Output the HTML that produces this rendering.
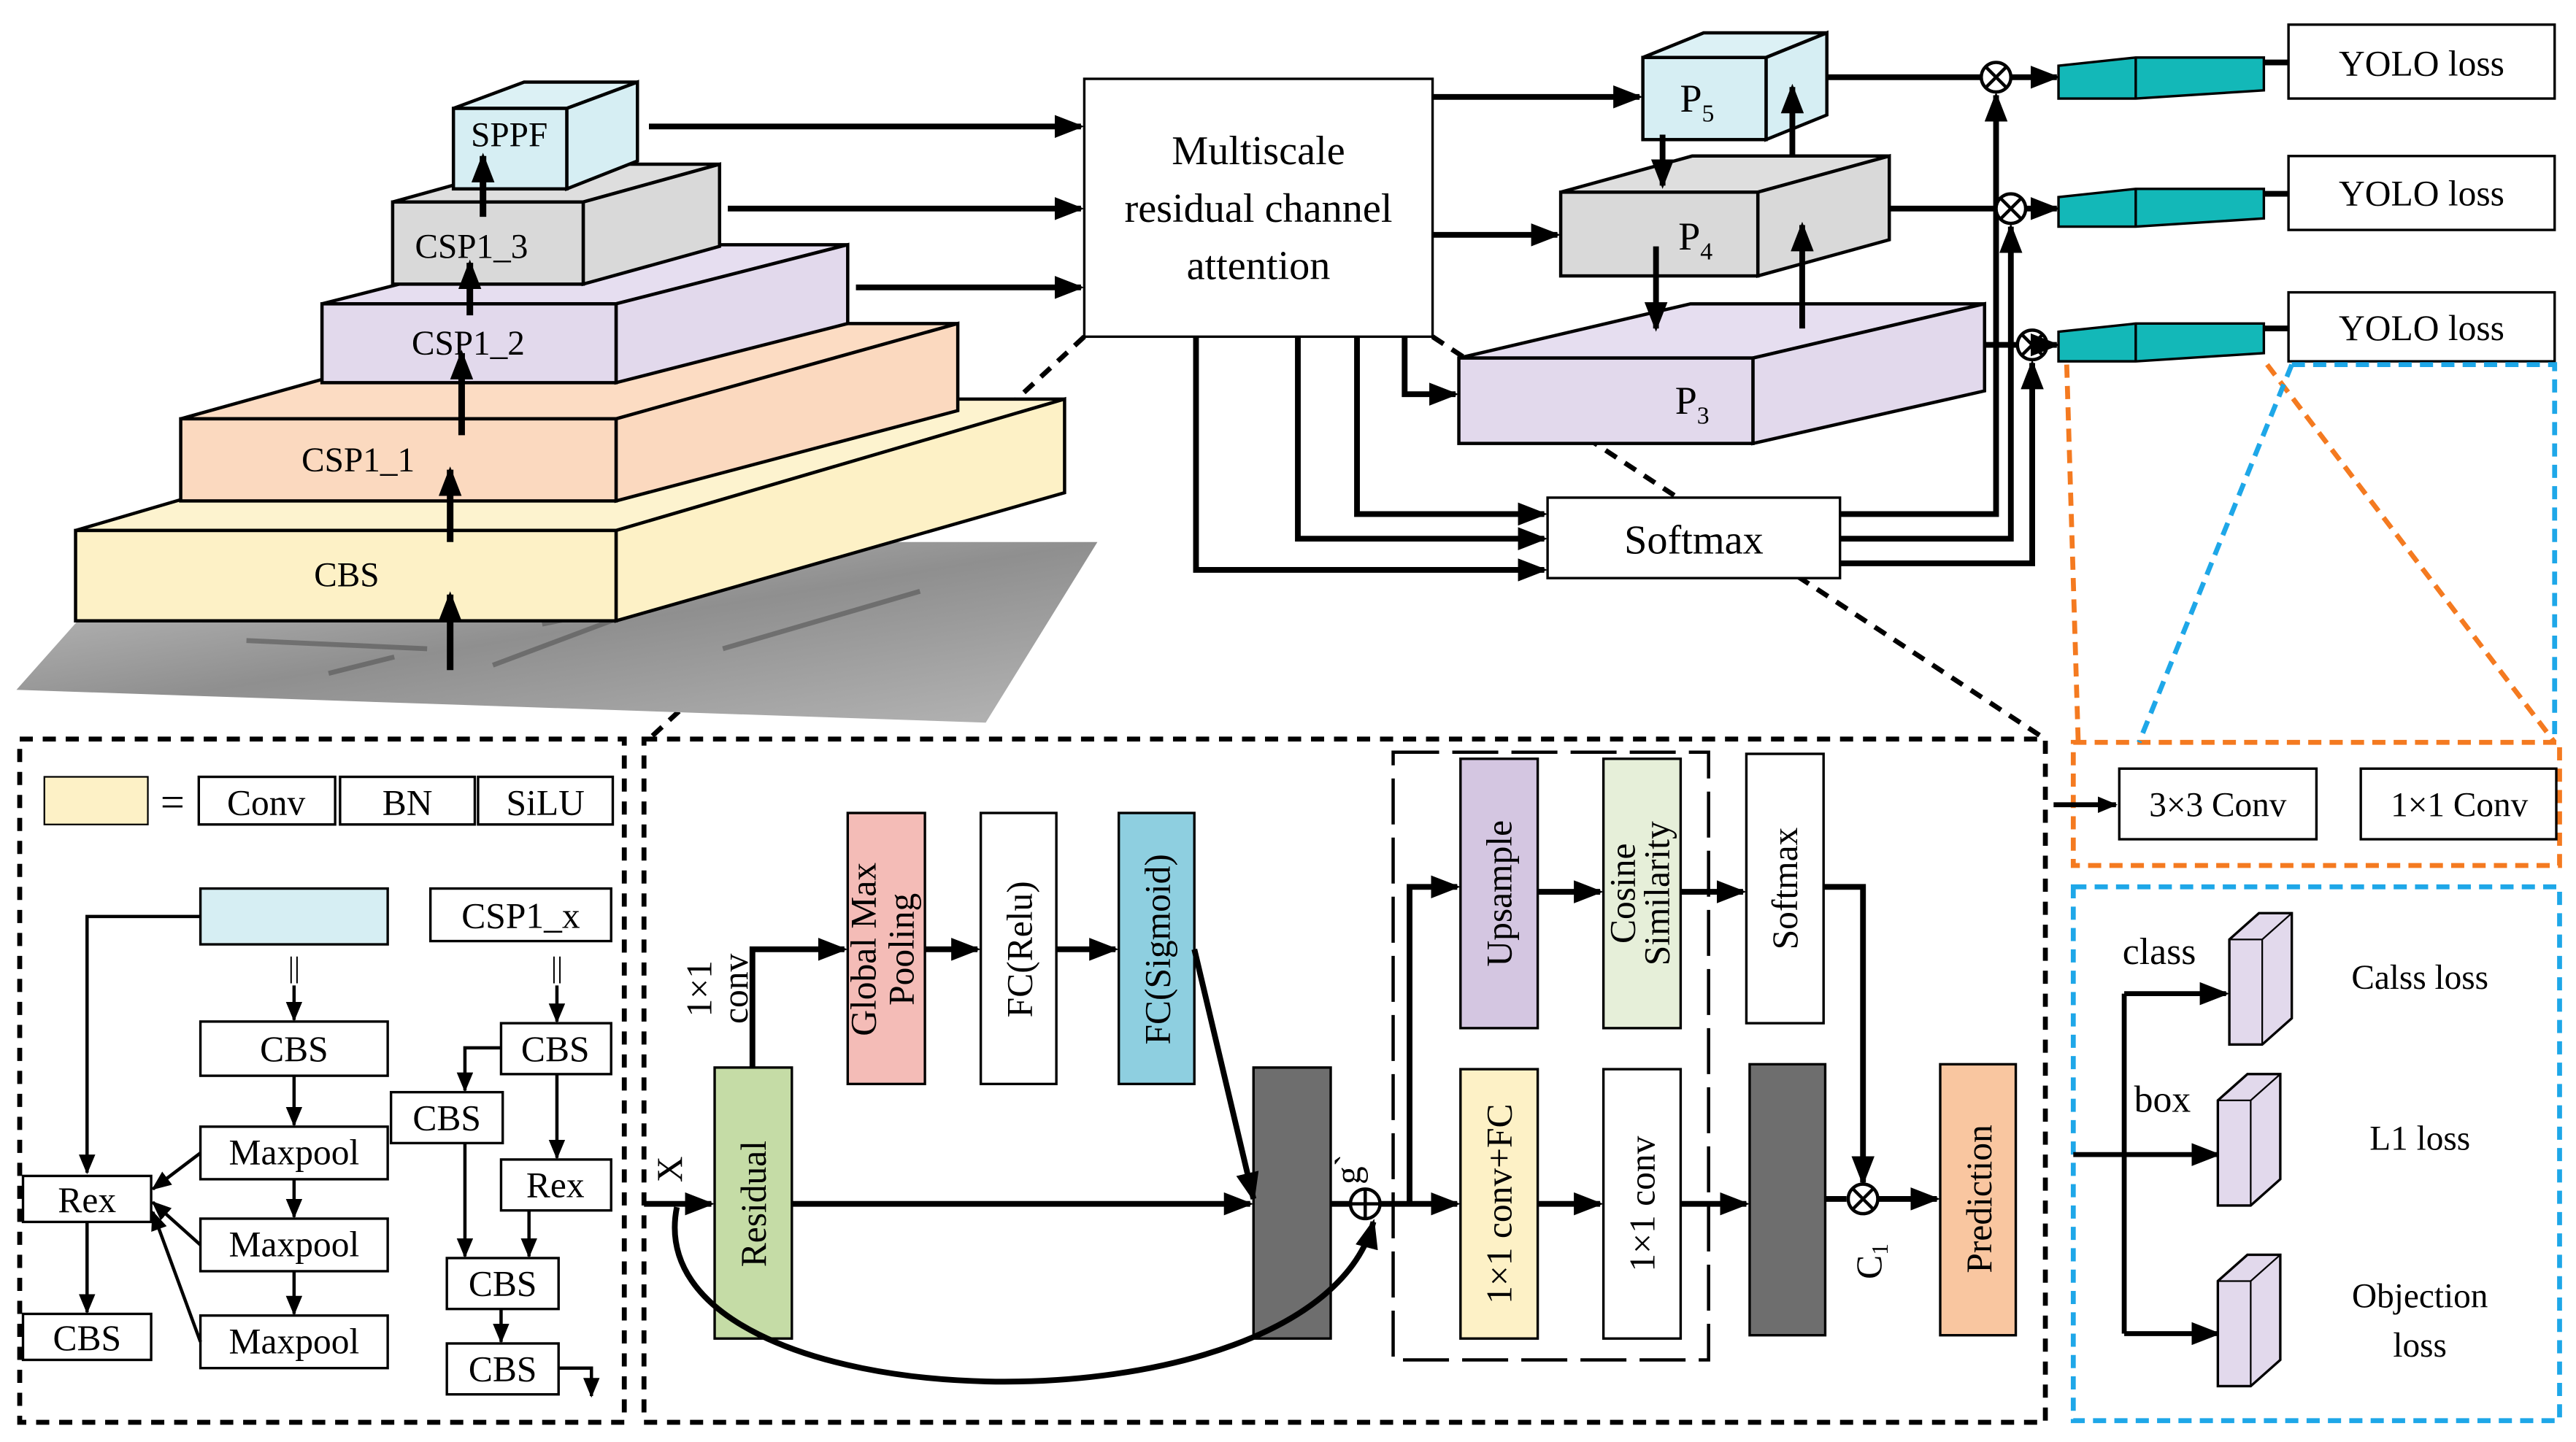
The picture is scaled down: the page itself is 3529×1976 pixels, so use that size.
<!DOCTYPE html>
<html><head><meta charset="utf-8"><style>
html,body{margin:0;padding:0;background:#fff;}
svg{display:block;}
svg text{font-family:"Liberation Serif","DejaVu Serif",serif;fill:#000;}
</style></head><body>
<svg width="3529" height="1976" viewBox="0 0 1568 878" preserveAspectRatio="none" xmlns="http://www.w3.org/2000/svg" font-family="Liberation Serif, DejaVu Serif, serif">
<defs>
<marker id="a" markerUnits="userSpaceOnUse" markerWidth="18" markerHeight="14" refX="16" refY="7" orient="auto"><path d="M0,0 L18,7 L0,14 z" fill="#000"/></marker>
<marker id="s" markerUnits="userSpaceOnUse" markerWidth="12" markerHeight="10" refX="11" refY="5" orient="auto"><path d="M0,0 L12,5 L0,10 z" fill="#000"/></marker>
<linearGradient id="g" x1="0" y1="0" x2="1" y2="1"><stop offset="0" stop-color="#c8c8c8"/><stop offset="0.5" stop-color="#8f8f8f"/><stop offset="1" stop-color="#b5b5b5"/></linearGradient>
</defs>
<rect width="1568" height="878" fill="#fff"/>

<g stroke="#000" stroke-width="3" stroke-dasharray="8,6" fill="none">
<line x1="660" y1="205" x2="395" y2="450"/>
<line x1="872" y1="205" x2="1245" y2="450"/>
</g>

<polygon points="10,420 90,330 668,330 600,440" fill="url(#g)"/>
<g stroke="#555" stroke-width="3" opacity="0.6">
<line x1="150" y1="390" x2="260" y2="395"/><line x1="300" y1="405" x2="420" y2="360"/><line x1="440" y1="395" x2="560" y2="360"/><line x1="200" y1="410" x2="240" y2="400"/><line x1="330" y1="380" x2="380" y2="370"/>
</g>

<g stroke="#000" stroke-width="2">
<polygon points="46,323 375,323 648,243 319,243" fill="#fdf3cf"/>
<polygon points="375,323 648,243 648,300 375,378" fill="#fdf1c6"/>
<rect x="46" y="323" width="329" height="55" fill="#fdf1c6"/>
<polygon points="110,255 375,255 583,197 318,197" fill="#fcdcc3"/>
<polygon points="375,255 583,197 583,250 375,305" fill="#fbd9bf"/>
<rect x="110" y="255" width="265" height="50" fill="#fbd9bf"/>
<polygon points="196,185 375,185 516,149 337,149" fill="#e6def0"/>
<polygon points="375,185 516,149 516,197 375,233" fill="#e2d9ec"/>
<rect x="196" y="185" width="179" height="48" fill="#e2d9ec"/>
<polygon points="239,123 355,123 438,100 322,100" fill="#dedede"/>
<polygon points="355,123 438,100 438,150 355,173" fill="#d9d9d9"/>
<rect x="239" y="123" width="116" height="50" fill="#d9d9d9"/>
<polygon points="276,66 345,66 388,50 319,50" fill="#dcf1f5"/>
<polygon points="345,66 388,50 388,98 345,115" fill="#d6eef3"/>
<rect x="276" y="66" width="69" height="49" fill="#d6eef3"/>
</g>
<g font-size="21" text-anchor="middle">
<text x="211" y="357">CBS</text>
<text x="218" y="287">CSP1_1</text>
<text x="285" y="216">CSP1_2</text>
<text x="287" y="157">CSP1_3</text>
<text x="310" y="89">SPPF</text>
</g>
<g stroke="#000" stroke-width="4" marker-end="url(#a)">
<line x1="274" y1="408" x2="274" y2="362"/>
<line x1="274" y1="330" x2="274" y2="286"/>
<line x1="281" y1="265" x2="281" y2="215"/>
<line x1="286" y1="192" x2="286" y2="160"/>
<line x1="294" y1="132" x2="294" y2="95"/>
</g>

<g stroke="#000" stroke-width="3.5" marker-end="url(#a)" fill="none">
<line x1="395" y1="77" x2="658" y2="77"/>
<line x1="443" y1="127" x2="658" y2="127"/>
<line x1="521" y1="175" x2="658" y2="175"/>
</g>
<rect x="660" y="48" width="212" height="157" fill="#fff" stroke="#000" stroke-width="1.5"/>
<g font-size="25" text-anchor="middle"><text x="766" y="100">Multiscale</text><text x="766" y="135">residual channel</text><text x="766" y="170">attention</text></g>

<g stroke="#000" stroke-width="2">
<polygon points="888,218 1067,218 1208,185 1029,185" fill="#e6def0"/>
<polygon points="1067,218 1208,185 1208,238 1067,270" fill="#e2d9ec"/>
<rect x="888" y="218" width="179" height="52" fill="#e2d9ec"/>
<polygon points="950,117 1070,117 1150,95 1030,95" fill="#dedede"/>
<polygon points="1070,117 1150,95 1150,146 1070,168" fill="#d9d9d9"/>
<rect x="950" y="117" width="120" height="51" fill="#d9d9d9"/>
<polygon points="1000,35 1075,35 1112,20 1037,20" fill="#dcf1f5"/>
<polygon points="1075,35 1112,20 1112,70 1075,85" fill="#d6eef3"/>
<rect x="1000" y="35" width="75" height="50" fill="#d6eef3"/>
</g>
<g font-size="24" text-anchor="middle">
<text x="1030" y="252">P<tspan font-size="15" dy="6">3</tspan></text>
<text x="1032" y="152">P<tspan font-size="15" dy="6">4</tspan></text>
<text x="1033" y="68">P<tspan font-size="15" dy="6">5</tspan></text>
</g>
<g stroke="#000" stroke-width="3.5" marker-end="url(#a)" fill="none">
<line x1="872" y1="59" x2="998" y2="59"/>
<line x1="872" y1="143" x2="948" y2="143"/>
<polyline points="855,205 855,240 886,240"/>
<line x1="1012" y1="82" x2="1012" y2="113"/>
<line x1="1091" y1="96" x2="1091" y2="53"/>
<line x1="1008" y1="150" x2="1008" y2="200"/>
<line x1="1097" y1="200" x2="1097" y2="137"/>
<polyline points="728,205 728,347 940,347"/>
<polyline points="790,205 790,328 940,328"/>
<polyline points="826,205 826,313 940,313"/>
</g>
<rect x="942" y="303" width="178" height="49" fill="#fff" stroke="#000" stroke-width="1.5"/>
<text x="1031" y="337" font-size="25" text-anchor="middle">Softmax</text>

<g stroke="#000" stroke-width="3.5" marker-end="url(#a)" fill="none">
<polyline points="1120,313 1215,313 1215,58"/>
<polyline points="1120,328 1224,328 1224,138"/>
<polyline points="1120,343 1237,343 1237,221"/>
</g>
<g stroke="#000" stroke-width="3.5" fill="none">
<line x1="1112" y1="47" x2="1206" y2="47"/>
<line x1="1150" y1="127" x2="1215" y2="127"/>
<line x1="1208" y1="210" x2="1228" y2="210"/>
</g>
<g stroke="#000" stroke-width="2" fill="#fff">
<circle cx="1215" cy="47" r="9"/><circle cx="1224" cy="127" r="9"/><circle cx="1237" cy="210" r="9"/>
</g>
<g stroke="#000" stroke-width="2">
<line x1="1209" y1="41" x2="1221" y2="53"/><line x1="1221" y1="41" x2="1209" y2="53"/>
<line x1="1218" y1="121" x2="1230" y2="133"/><line x1="1230" y1="121" x2="1218" y2="133"/>
<line x1="1231" y1="204" x2="1243" y2="216"/><line x1="1243" y1="204" x2="1231" y2="216"/>
</g>
<g stroke="#000" stroke-width="3.5" marker-end="url(#a)">
<line x1="1224" y1="47" x2="1252" y2="47"/>
<line x1="1233" y1="127" x2="1252" y2="127"/>
<line x1="1246" y1="210" x2="1252" y2="210"/>
</g>
<g stroke="#000" stroke-width="1.5">
<polygon points="1253,40 1300,35 1378,35 1378,55 1300,60 1253,60" fill="#13b8b8"/>
<polygon points="1253,120 1300,115 1378,115 1378,133 1300,138 1253,138" fill="#13b8b8"/>
<polygon points="1253,202 1300,197 1378,197 1378,215 1300,220 1253,220" fill="#13b8b8"/>
<line x1="1300" y1="35" x2="1300" y2="60"/><line x1="1300" y1="115" x2="1300" y2="138"/><line x1="1300" y1="197" x2="1300" y2="220"/>
</g>
<g stroke="#000" stroke-width="3.5">
<line x1="1378" y1="38" x2="1393" y2="38"/><line x1="1378" y1="118" x2="1393" y2="118"/><line x1="1378" y1="200" x2="1393" y2="200"/>
</g>
<g stroke="#000" stroke-width="1.5" fill="#fff">
<rect x="1393" y="15" width="162" height="45"/><rect x="1393" y="95" width="162" height="45"/><rect x="1393" y="178" width="162" height="42"/>
</g>
<g font-size="22" text-anchor="middle"><text x="1474" y="46">YOLO loss</text><text x="1474" y="125">YOLO loss</text><text x="1474" y="207">YOLO loss</text></g>

<g fill="none" stroke-width="3" stroke-dasharray="8,5">
<line x1="1258" y1="222" x2="1265" y2="452" stroke="#f47a20"/>
<line x1="1380" y1="222" x2="1555" y2="452" stroke="#f47a20"/>
<rect x="1262" y="452" width="296" height="75" stroke="#f47a20"/>
<line x1="1395" y1="222" x2="1302" y2="452" stroke="#1ea7e8"/>
<polyline points="1395,222 1555,222 1555,452" stroke="#1ea7e8"/>
<rect x="1262" y="540" width="296" height="325" stroke="#1ea7e8"/>
</g>
<line x1="1250" y1="490" x2="1288" y2="490" stroke="#000" stroke-width="3" marker-end="url(#s)"/>
<g stroke="#000" stroke-width="1.5" fill="#fff"><rect x="1290" y="468" width="120" height="43"/><rect x="1437" y="468" width="119" height="43"/></g>
<g font-size="21" text-anchor="middle"><text x="1350" y="497">3×3 Conv</text><text x="1497" y="497">1×1 Conv</text></g>

<g stroke="#000" stroke-width="3" fill="none">
<line x1="1262" y1="703" x2="1293" y2="703"/>
<line x1="1293" y1="605" x2="1293" y2="812"/>
</g>
<g stroke="#000" stroke-width="3" marker-end="url(#a)">
<line x1="1293" y1="605" x2="1355" y2="605"/>
<line x1="1293" y1="703" x2="1350" y2="703"/>
<line x1="1293" y1="812" x2="1350" y2="812"/>
</g>
<g stroke="#000" stroke-width="1.5" fill="#e2d9ec">
<polygon points="1357,572 1375,556 1395,556 1395,620 1377,636 1357,636"/>
<polygon points="1350,670 1368,654 1388,654 1388,718 1370,734 1350,734"/>
<polygon points="1350,780 1368,764 1388,764 1388,828 1370,844 1350,844"/>
</g>
<g stroke="#000" stroke-width="1" fill="none">
<polyline points="1357,572 1377,572 1395,556"/><line x1="1377" y1="572" x2="1377" y2="636"/>
<polyline points="1350,670 1370,670 1388,654"/><line x1="1370" y1="670" x2="1370" y2="734"/>
<polyline points="1350,780 1370,780 1388,764"/><line x1="1370" y1="780" x2="1370" y2="844"/>
</g>
<g font-size="23"><text x="1292" y="587">class</text><text x="1299" y="677">box</text></g>
<g font-size="21" text-anchor="middle"><text x="1473" y="602">Calss loss</text><text x="1473" y="700">L1 loss</text><text x="1473" y="796">Objection</text><text x="1473" y="826">loss</text></g>

<g fill="none" stroke="#000" stroke-width="3" stroke-dasharray="8,6">
<rect x="12" y="450" width="368" height="416"/>
<rect x="392" y="450" width="853" height="416"/>
</g>

<rect x="27" y="473" width="63" height="29" fill="#fdf1c6" stroke="#000" stroke-width="1"/>
<text x="105" y="497" font-size="26" text-anchor="middle">=</text>
<g stroke="#000" stroke-width="1.5" fill="#fff">
<rect x="121" y="473" width="83" height="29"/><rect x="207" y="473" width="82" height="29"/><rect x="291" y="473" width="82" height="29"/>
<rect x="122" y="541" width="114" height="34" fill="#d6eef3"/>
<rect x="122" y="622" width="114" height="33"/>
<rect x="122" y="686" width="114" height="32"/>
<rect x="122" y="742" width="114" height="32"/>
<rect x="122" y="801" width="114" height="32"/>
<rect x="14" y="716" width="78" height="28"/>
<rect x="14" y="800" width="78" height="28"/>
<rect x="262" y="541" width="110" height="32"/>
<rect x="305" y="623" width="67" height="31"/>
<rect x="238" y="665" width="68" height="31"/>
<rect x="305" y="706" width="67" height="31"/>
<rect x="272" y="766" width="68" height="31"/>
<rect x="272" y="818" width="68" height="31"/>
</g>
<g font-size="22" text-anchor="middle">
<text x="162" y="496">Conv</text><text x="248" y="496">BN</text><text x="332" y="496">SiLU</text>
<text x="179" y="646">CBS</text><text x="179" y="709">Maxpool</text><text x="179" y="765">Maxpool</text><text x="179" y="824">Maxpool</text>
<text x="53" y="738">Rex</text><text x="53" y="822">CBS</text>
<text x="317" y="565">CSP1_x</text><text x="338" y="646">CBS</text><text x="272" y="688">CBS</text><text x="338" y="729">Rex</text><text x="306" y="789">CBS</text><text x="306" y="841">CBS</text>
<text x="179" y="595" font-size="18">||</text><text x="339" y="595" font-size="18">||</text>
</g>
<g stroke="#000" stroke-width="2" fill="none" marker-end="url(#s)">
<polyline points="122,558 53,558 53,714"/>
<line x1="179" y1="655" x2="179" y2="685"/>
<line x1="179" y1="718" x2="179" y2="741"/>
<line x1="179" y1="774" x2="179" y2="800"/>
<line x1="122" y1="702" x2="93" y2="724"/>
<line x1="122" y1="758" x2="93" y2="732"/>
<line x1="122" y1="817" x2="93" y2="738"/>
<line x1="53" y1="744" x2="53" y2="799"/>
<line x1="179" y1="600" x2="179" y2="621"/>
<line x1="339" y1="600" x2="339" y2="622"/>
<polyline points="305,638 283,638 283,664"/>
<line x1="339" y1="654" x2="339" y2="705"/>
<line x1="283" y1="696" x2="283" y2="765"/>
<line x1="322" y1="737" x2="322" y2="765"/>
<line x1="305" y1="797" x2="305" y2="817"/>
<polyline points="340,833 360,833 360,850"/>
</g>

<g stroke="#000" stroke-width="1.5">
<rect x="435" y="650" width="47" height="165" fill="#c5dca6"/>
<rect x="516" y="495" width="47" height="165" fill="#f4bcb7"/>
<rect x="597" y="495" width="46" height="165" fill="#fff"/>
<rect x="681" y="495" width="46" height="165" fill="#8ecfe0"/>
<rect x="763" y="650" width="47" height="165" fill="#6e6e6e"/>
<rect x="889" y="462" width="47" height="164" fill="#d4c6e1"/>
<rect x="976" y="462" width="47" height="164" fill="#e6efd9"/>
<rect x="1063" y="459" width="47" height="164" fill="#fff"/>
<rect x="889" y="651" width="47" height="164" fill="#fdf1c6"/>
<rect x="976" y="651" width="47" height="164" fill="#fff"/>
<rect x="1065" y="648" width="46" height="165" fill="#6e6e6e"/>
<rect x="1181" y="648" width="46" height="165" fill="#f9c6a0"/>
</g>
<rect x="848" y="458" width="192" height="370" fill="none" stroke="#000" stroke-width="2" stroke-dasharray="28,8"/>
<g font-size="22" text-anchor="middle">
<text transform="translate(466,733) rotate(-90)">Residual</text>
<text transform="translate(533,578) rotate(-90)">Global Max</text>
<text transform="translate(556,578) rotate(-90)">Pooling</text>
<text transform="translate(628,578) rotate(-90)">FC(Relu)</text>
<text transform="translate(712,578) rotate(-90)">FC(Sigmoid)</text>
<text transform="translate(920,544) rotate(-90)">Upsample</text>
<text transform="translate(995,544) rotate(-90)">Cosine</text>
<text transform="translate(1016,544) rotate(-90)">Similarity</text>
<text transform="translate(1094,541) rotate(-90)">Softmax</text>
<text transform="translate(920,733) rotate(-90)">1×1 conv+FC</text>
<text transform="translate(1007,733) rotate(-90)">1×1 conv</text>
<text transform="translate(1212,730) rotate(-90)">Prediction</text>
<text transform="translate(433,602) rotate(-90)">1×1</text>
<text transform="translate(455,602) rotate(-90)">conv</text>
<text transform="translate(415,712) rotate(-90)">X</text>
<text transform="translate(828,712) rotate(-90)">g`</text>
<text transform="translate(1145,768) rotate(-90)">C<tspan font-size="14" dy="4">1</tspan></text>
</g>
<g stroke="#000" stroke-width="3.5" fill="none" marker-end="url(#a)">
<line x1="392" y1="733" x2="433" y2="733"/>
<polyline points="458,650 458,578 514,578"/>
<line x1="563" y1="578" x2="595" y2="578"/>
<line x1="643" y1="578" x2="679" y2="578"/>
<line x1="727" y1="578" x2="763" y2="730"/>
<line x1="482" y1="733" x2="761" y2="733"/>
<path d="M412,735 C385,870 800,880 836,744"/>
<line x1="840" y1="733" x2="887" y2="733"/>
<polyline points="858,733 858,540 887,540"/>
<line x1="936" y1="543" x2="974" y2="543"/>
<line x1="1023" y1="543" x2="1061" y2="543"/>
<line x1="936" y1="733" x2="974" y2="733"/>
<line x1="1023" y1="733" x2="1063" y2="733"/>
<polyline points="1110,540 1134,540 1134,720"/>
<line x1="1143" y1="730" x2="1179" y2="730"/>
</g>
<line x1="810" y1="733" x2="822" y2="733" stroke="#000" stroke-width="3.5"/>
<line x1="1111" y1="730" x2="1124" y2="730" stroke="#000" stroke-width="3.5"/>
<circle cx="831" cy="733" r="9" fill="#fff" stroke="#000" stroke-width="2"/>
<line x1="822" y1="733" x2="840" y2="733" stroke="#000" stroke-width="2"/><line x1="831" y1="724" x2="831" y2="742" stroke="#000" stroke-width="2"/>
<circle cx="1134" cy="730" r="9" fill="#fff" stroke="#000" stroke-width="2"/>
<line x1="1128" y1="724" x2="1140" y2="736" stroke="#000" stroke-width="2"/><line x1="1140" y1="724" x2="1128" y2="736" stroke="#000" stroke-width="2"/>
</svg>
</body></html>
